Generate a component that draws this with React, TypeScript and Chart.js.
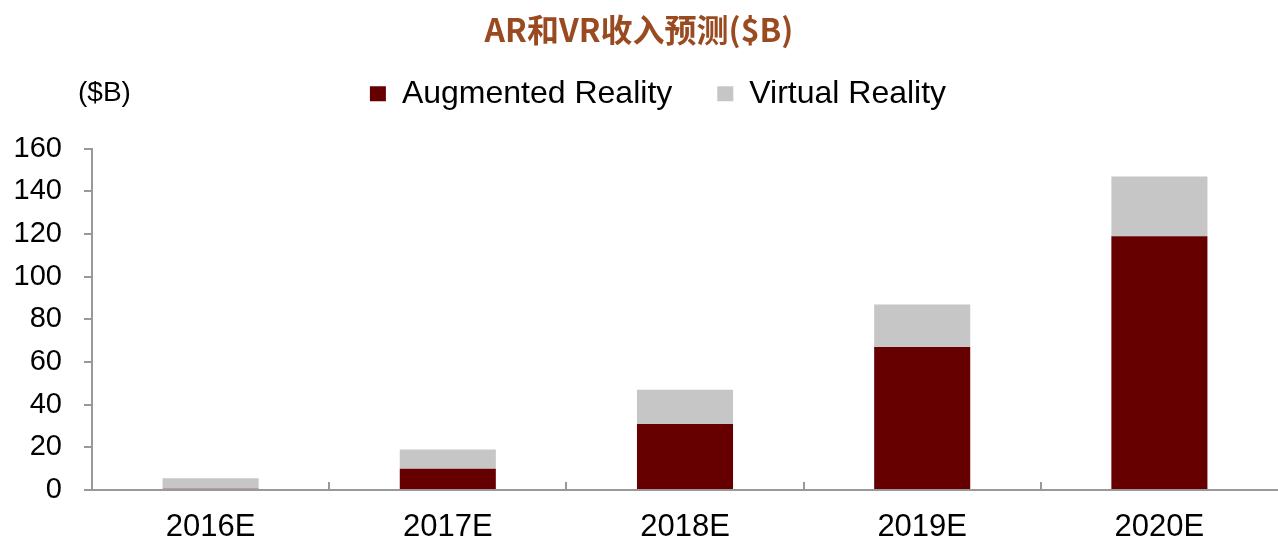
import React, { useEffect, useRef } from "react";
import { Chart, registerables } from "chart.js";

Chart.register(...registerables);

const categories = ["2016E", "2017E", "2018E", "2019E", "2020E"];
const arValues = [0.6, 10, 31, 67, 119];
const vrValues = [4.9, 9, 16, 20, 28];
const yTicks = [0, 20, 40, 60, 80, 100, 120, 140, 160];
const titleText = "AR和VR收入预测($B)";
const unitLabel = "($B)";
const seriesNames = ["Augmented Reality", "Virtual Reality"];

const SANS = "'Liberation Sans', Arial, sans-serif";

export default function App() {
  const ref = useRef<HTMLCanvasElement | null>(null);

  useEffect(() => {
    if (!ref.current) return;

    const legendTweak = {
      id: "legendTweak",
      beforeInit(chart: any) {
        const lg = chart.legend;
        if (!lg) return;
        const origFit = lg.fit;
        lg.fit = function () {
          origFit.bind(lg)();
          this.height += 14;
        };
        const origDraw = lg.draw;
        lg.draw = function (...args: any[]) {
          const t = this.top, l = this.left, r = this.right, b = this.bottom;
          this.top = t - 15;
          this.bottom = b - 15;
          this.left = l + 19;
          this.right = r + 19;
          origDraw.apply(lg, args);
          this.top = t;
          this.bottom = b;
          this.left = l;
          this.right = r;
        };
      },
    };

    const extras = {
      id: "extras",
      afterDraw(chart: any) {
        const ctx = chart.ctx;
        const x = chart.scales.x;
        const area = chart.chartArea;
        ctx.save();
        ctx.strokeStyle = "#999";
        ctx.lineWidth = 2;
        for (let i = 1; i < categories.length; i++) {
          const px = Math.round((x.getPixelForValue(i - 1) + x.getPixelForValue(i)) / 2);
          ctx.beginPath();
          ctx.moveTo(px, area.bottom);
          ctx.lineTo(px, area.bottom - 8);
          ctx.stroke();
        }
        ctx.fillStyle = "#000";
        ctx.font = `28px ${SANS}`;
        ctx.textAlign = "left";
        ctx.textBaseline = "middle";
        ctx.fillText(unitLabel, 78, 93);
        ctx.restore();
      },
    };

    const chart = new Chart(ref.current, {
      type: "bar",
      data: {
        labels: categories,
        datasets: [
          {
            label: seriesNames[0],
            data: arValues,
            backgroundColor: "#660000",
            categoryPercentage: 1,
            barPercentage: 0.405,
          },
          {
            label: seriesNames[1],
            data: vrValues,
            backgroundColor: "#c6c6c6",
            categoryPercentage: 1,
            barPercentage: 0.405,
          },
        ],
      },
      options: {
        animation: false,
        responsive: false,
        maintainAspectRatio: false,
        layout: { padding: { left: 0, right: 0, top: 0, bottom: 0 } },
        plugins: {
          title: {
            display: true,
            text: titleText,
            color: "#9a4a20",
            font: { size: 32, family: "'Noto Sans CJK SC', sans-serif", weight: "bold", lineHeight: 1.15 },
            padding: { top: 11, bottom: 0 },
          },
          legend: {
            display: true,
            position: "top",
            fullSize: true,
            labels: {
              boxWidth: 16,
              boxHeight: 15,
              padding: 45,
              color: "#000",
              font: { size: 32, family: SANS },
            },
          },
          tooltip: { enabled: false },
        },
        scales: {
          x: {
            stacked: true,
            grid: { drawOnChartArea: false, drawTicks: false },
            border: { color: "#999", width: 2 },
            ticks: { color: "#000", font: { size: 31, family: SANS }, padding: 19 },
            afterFit(scale: any) {
              scale.height = 52;
            },
          },
          y: {
            stacked: true,
            min: 0,
            max: 160,
            afterBuildTicks(scale: any) {
              scale.ticks = yTicks.map((v) => ({ value: v }));
            },
            grid: { drawOnChartArea: false, drawTicks: true, tickLength: 8, color: "#999", lineWidth: 2 },
            border: { color: "#999", width: 2 },
            ticks: { color: "#000", font: { size: 29, family: SANS }, padding: 22 },
            afterFit(scale: any) {
              scale.width = 92;
            },
          },
        },
      },
      plugins: [legendTweak, extras],
    } as any);

    return () => chart.destroy();
  }, []);

  return (
    <div style={{ position: "absolute", left: 0, top: 0, width: 1278, height: 542, background: "#fff" }}>
      <canvas ref={ref} width={1278} height={542} />
    </div>
  );
}
